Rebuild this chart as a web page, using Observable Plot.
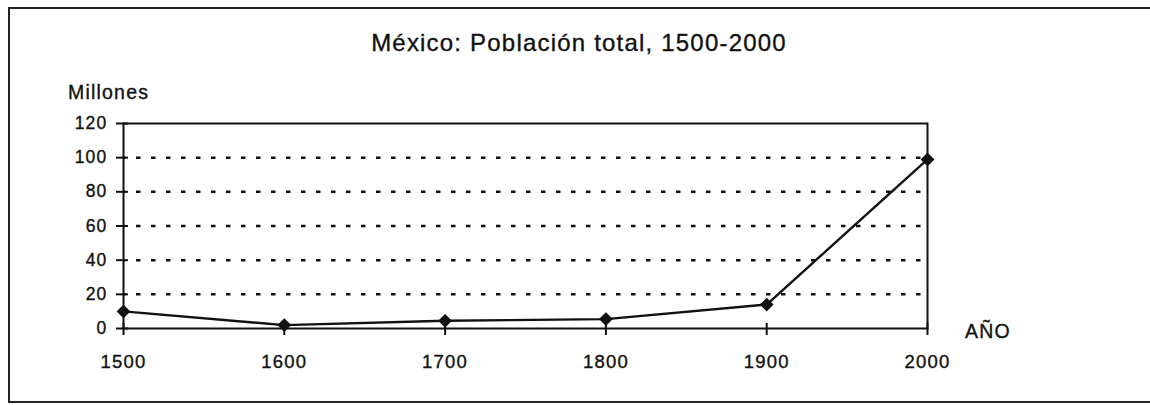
<!DOCTYPE html>
<html>
<head>
<meta charset="utf-8">
<script src="https://cdn.jsdelivr.net/npm/d3@7"></script>
<script src="https://cdn.jsdelivr.net/npm/@observablehq/plot@0.6"></script>
<style>
  html, body { margin: 0; padding: 0; background: #fff; }
  body { width: 1150px; height: 405px; position: relative; overflow: hidden;
         font-family: "Liberation Sans", Arial, Helvetica, sans-serif; color: #111; }
  #box { position: absolute; left: 8px; top: 7px; width: 1200px; height: 392px;
         border: 2px solid #222; border-right: none; }
  .lbl { position: absolute; white-space: nowrap; letter-spacing: 1.2px; -webkit-text-stroke: 0.35px #111; }
  #title { left: 8px; width: 1142px; text-align: center; top: 31px; font-size: 24px; line-height: 24px; }
  #ylab { left: 68px; top: 83px; font-size: 19.5px; line-height: 19.5px; }
  #xlab { left: 965px; top: 322px; font-size: 19.5px; line-height: 19.5px; }
  #chart { position: absolute; left: 0; top: 0; }
  #chart svg text { stroke: #111; stroke-width: 0.35px; }
</style>
</head>
<body>
<div id="box"></div>
<div id="chart"></div>
<div class="lbl" id="title"></div>
<div class="lbl" id="ylab"></div>
<div class="lbl" id="xlab"></div>
<script>
const title = "México: Población total, 1500-2000";
const yLabel = "Millones";
const xLabel = "AÑO";
const years = [1500, 1600, 1700, 1800, 1900, 2000];
const poblacion = [10, 2, 4.5, 5.5, 14, 99];
const yTicks = [0, 20, 40, 60, 80, 100, 120];
const gridValues = [20, 40, 60, 80, 100];

document.getElementById("title").textContent = title;
document.getElementById("ylab").textContent = yLabel;
document.getElementById("xlab").textContent = xLabel;

const data = years.map((y, i) => ({year: y, value: poblacion[i]}));

const chart = Plot.plot({
  width: 1150,
  height: 405,
  marginLeft: 123,
  marginRight: 223,
  marginTop: 123,
  marginBottom: 77,
  style: {fontFamily: '"Liberation Sans", Arial, Helvetica, sans-serif', color: "#111", background: "transparent", letterSpacing: "1.2px"},
  x: {domain: [1500, 2000]},
  y: {domain: [0, 120]},
  marks: [
    Plot.ruleY(gridValues, {stroke: "#111", strokeWidth: 2.5, strokeDasharray: "4.5,10.5", strokeDashoffset: -13}),
    Plot.frame({stroke: "#111", strokeWidth: 2}),
    Plot.axisY({ticks: yTicks, tickSize: 12, dx: 5, tickPadding: 9, fontSize: 17.5, label: null, tickFormat: d => String(d), strokeWidth: 2}),
    Plot.axisX({ticks: years, tickSize: 12, dy: -5, tickPadding: 19, fontSize: 18.5, label: null, tickFormat: d => String(d), strokeWidth: 2}),
    Plot.line(data, {x: "year", y: "value", stroke: "#111", strokeWidth: 2.4}),
    Plot.dot(data, {x: "year", y: "value", symbol: "diamond2", r: 6.2, fill: "#111", stroke: "none"})
  ]
});
document.getElementById("chart").appendChild(chart);
</script>
</body>
</html>
